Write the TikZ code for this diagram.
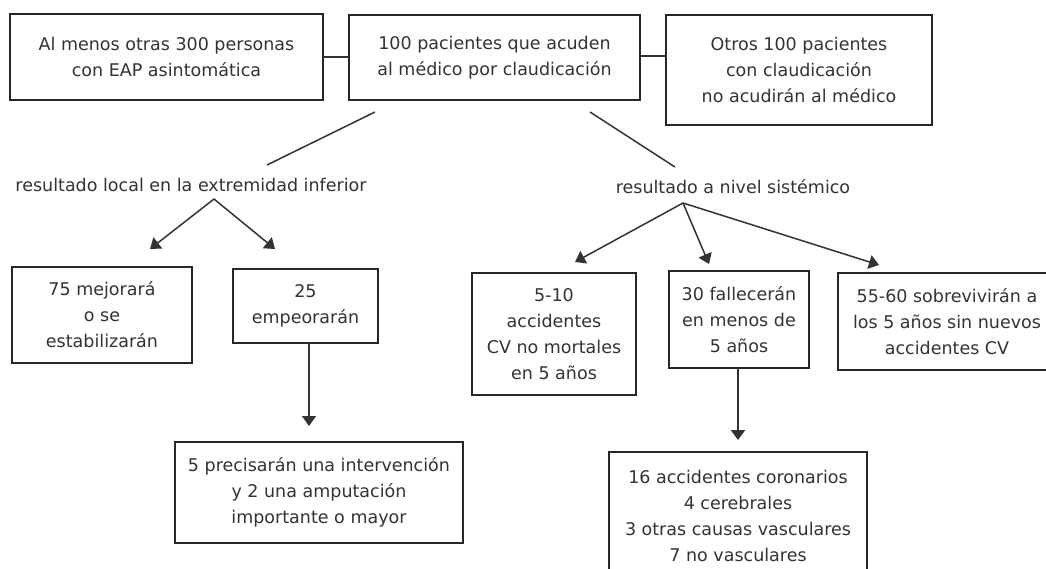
\documentclass[tikz,border=0pt]{standalone}
\usepackage{fontspec}
\setmainfont{DejaVu Sans}
\usetikzlibrary{arrows.meta}
\tikzset{
  box/.style={draw=black!85, line width=1.8pt, fill=white, align=center, inner sep=0pt,
    font=\fontsize{17.5}{26}\selectfont, text=black!80},
  thickbox/.style={box, line width=2.8pt},
  lbl/.style={inner sep=0pt, font=\fontsize{17.5}{26}\selectfont, text=black!80},
  conn/.style={draw=black!80, line width=1.5pt},
  arr/.style={conn, -{Triangle[length=10pt,width=14pt]}},
  thickarr/.style={conn, line width=2.4pt, -{Triangle[length=10pt,width=14pt]}}
}
\begin{document}
\begin{tikzpicture}[x=1pt,y=-1pt]
\useasboundingbox (0,0) rectangle (1046,568);
\fill[white] (0,0) rectangle (1046,568);
\clip (0,0) rectangle (1046,568);
% top row
\node[box, minimum width=313pt, minimum height=86pt] (A) at (166.5,57) {Al menos otras 300 personas\\con EAP asintomática};
\node[thickbox, minimum width=291pt, minimum height=85pt] (B) at (494.5,57.5) {100 pacientes que acuden\\al médico por claudicación};
\node[box, minimum width=266pt, minimum height=110pt] (C) at (799,70) {Otros 100 pacientes\\con claudicación\\no acudirán al médico};
\draw[conn] (A.east |- 0,57) -- (B.west |- 0,57);
\draw[conn] (B.east |- 0,56) -- (C.west |- 0,56);
% labels
\node[lbl] (loc) at (191,185) {resultado local en la extremidad inferior};
\node[lbl] (sys) at (733,187) {resultado a nivel sistémico};
\coordinate (bl1) at (375,112);
\coordinate (bl2) at (267,165);
\coordinate (br1) at (590,112);
\coordinate (br2) at (675,167);
\draw[conn] (bl1) -- (bl2);
\draw[conn] (br1) -- (br2);
% left branch
\node[box, minimum width=180pt, minimum height=96pt] (L1) at (102,315) {75 mejorará\\o se\\estabilizarán};
\node[box, minimum width=145pt, minimum height=74pt] (L2) at (305.5,306) {25\\empeorarán};
\node[box, minimum width=288pt, minimum height=101pt] (L3) at (319,492.5) {5 precisarán una intervención\\y 2 una amputación\\importante o mayor};
\coordinate (lapex) at (214,199);
\coordinate (lt1) at (150,249);
\coordinate (lt2) at (275,249);
\draw[arr] (lapex) -- (lt1);
\draw[arr] (lapex) -- (lt2);
\coordinate (ld1) at (309,343);
\coordinate (ld2) at (309,426);
\draw[arr] (ld1) -- (ld2);
% right branch
\node[box, minimum width=164pt, minimum height=122pt] (R1) at (554,334) {5-10\\accidentes\\CV no mortales\\en 5 años};
\node[thickbox, line width=2.3pt, minimum width=140pt, minimum height=97pt] (R2) at (739,319.5) {30 fallecerán\\en menos de\\5 años};
\node[box, minimum width=218pt, minimum height=97pt] (R3) at (947,321.5) {55-60 sobrevivirán a\\los 5 años sin nuevos\\accidentes CV};
\node[box, minimum width=258pt, minimum height=128pt] (R4) at (738,516) {16 accidentes coronarios\\4 cerebrales\\3 otras causas vasculares\\7 no vasculares};
\coordinate (rapex) at (683,203);
\coordinate (rt1) at (575,262);
\coordinate (rt2) at (709,264);
\coordinate (rt3) at (879,265);
\draw[arr] (rapex) -- (rt1);
\draw[arr] (rapex) -- (rt2);
\draw[arr] (rapex) -- (rt3);
\coordinate (rd1) at (738,368);
\coordinate (rd2) at (738,440);
\draw[thickarr] (rd1) -- (rd2);
\end{tikzpicture}
\end{document}
